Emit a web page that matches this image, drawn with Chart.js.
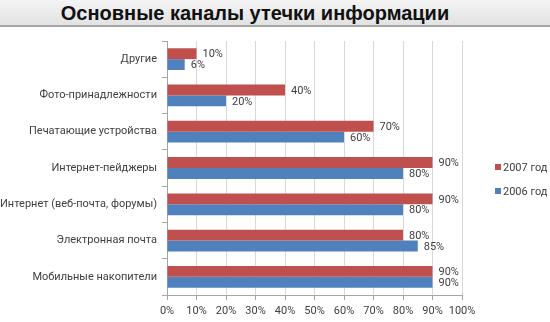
<!DOCTYPE html>
<html>
<head>
<meta charset="utf-8">
<script src="https://cdn.jsdelivr.net/npm/chart.js"></script>
<style>
  html, body { margin: 0; padding: 0; background: #fff; }
  #wrap { width: 550px; height: 322px; overflow: hidden; }
  #title {
    height: 25px;
    border-bottom: 2px solid #a6a6a6;
    background: linear-gradient(to bottom, #f4f4f4, #e2e2e2);
    font: bold 20px "Liberation Sans", Arial, sans-serif;
    color: #111;
    text-align: center;
    line-height: 26px;
    padding-right: 40px;
    box-sizing: content-box;
  }
  #box { position: relative; width: 550px; height: 295px; }
</style>
</head>
<body>
<div id="wrap">
  <div id="title">Основные каналы утечки информации</div>
  <div id="box"><canvas id="chart"></canvas></div>
</div>
<script>
// Channels, top to bottom
const categories = [
  'Другие',
  'Фото-принадлежности',
  'Печатающие устройства',
  'Интернет-пейджеры',
  'Интернет (веб-почта, форумы)',
  'Электронная почта',
  'Мобильные накопители'
];
const values2007 = [10, 40, 70, 90, 90, 80, 90];
const values2006 = [6, 20, 60, 80, 80, 85, 90];
const xTicks = [0, 10, 20, 30, 40, 50, 60, 70, 80, 90, 100];

const FONT = 'Roboto, "Open Sans", sans-serif';

// Percent text to the right of each bar end
const valueLabels = {
  id: 'valueLabels',
  afterDatasetsDraw(chart) {
    const ctx = chart.ctx;
    ctx.save();
    ctx.font = '11px ' + FONT;
    ctx.fillStyle = '#404040';
    ctx.textAlign = 'left';
    ctx.textBaseline = 'middle';
    chart.data.datasets.forEach((ds, i) => {
      chart.getDatasetMeta(i).data.forEach((bar, j) => {
        ctx.fillText(ds.data[j] + '%', bar.x + 6, bar.y + 1);
      });
    });
    ctx.restore();
  }
};

// Small square legend on the right
const sideLegend = {
  id: 'sideLegend',
  afterDraw(chart) {
    const ctx = chart.ctx;
    ctx.save();
    ctx.font = '11px ' + FONT;
    ctx.textBaseline = 'middle';
    const rows = [chart.data.datasets[0], chart.data.datasets[1]];
    rows.forEach((ds, i) => {
      const y = 140 + i * 24;
      ctx.fillStyle = ds.backgroundColor;
      ctx.fillRect(495, y - 3, 6, 6);
      ctx.fillStyle = '#404040';
      ctx.fillText(ds.label, 503, y + 1);
    });
    ctx.restore();
  }
};

new Chart(document.getElementById('chart'), {
  type: 'bar',
  data: {
    labels: categories,
    datasets: [
      { label: '2007 год', data: values2007, backgroundColor: '#c0504d' },
      { label: '2006 год', data: values2006, backgroundColor: '#4f81bd' }
    ]
  },
  options: {
    indexAxis: 'y',
    responsive: true,
    maintainAspectRatio: false,
    animation: false,
    layout: { padding: { top: 14, right: 88, left: 0, bottom: 0 } },
    datasets: { bar: { categoryPercentage: 0.6, barPercentage: 1 } },
    plugins: { legend: { display: false }, tooltip: { enabled: false } },
    scales: {
      x: {
        min: 0, max: 100,
        afterBuildTicks(scale) { scale.ticks = xTicks.map(v => ({ value: v })); },
        afterFit(scale) { scale.height = 27; },
        ticks: {
          callback: v => v + '%',
          color: '#404040',
          font: { family: FONT, size: 11 },
          padding: 5,
          autoSkip: false,
          maxRotation: 0
        },
        grid: { color: '#d9d9d9', tickLength: 5, tickColor: '#a6a6a6' },
        border: { color: '#a6a6a6' }
      },
      y: {
        afterFit(scale) { scale.width = 167; },
        ticks: {
          color: '#404040',
          font: { family: FONT, size: 11 },
          padding: 5
        },
        grid: { drawOnChartArea: false, tickLength: 5, color: '#a6a6a6', offset: true },
        border: { color: '#a6a6a6' }
      }
    }
  },
  plugins: [valueLabels, sideLegend]
});
</script>
</body>
</html>
